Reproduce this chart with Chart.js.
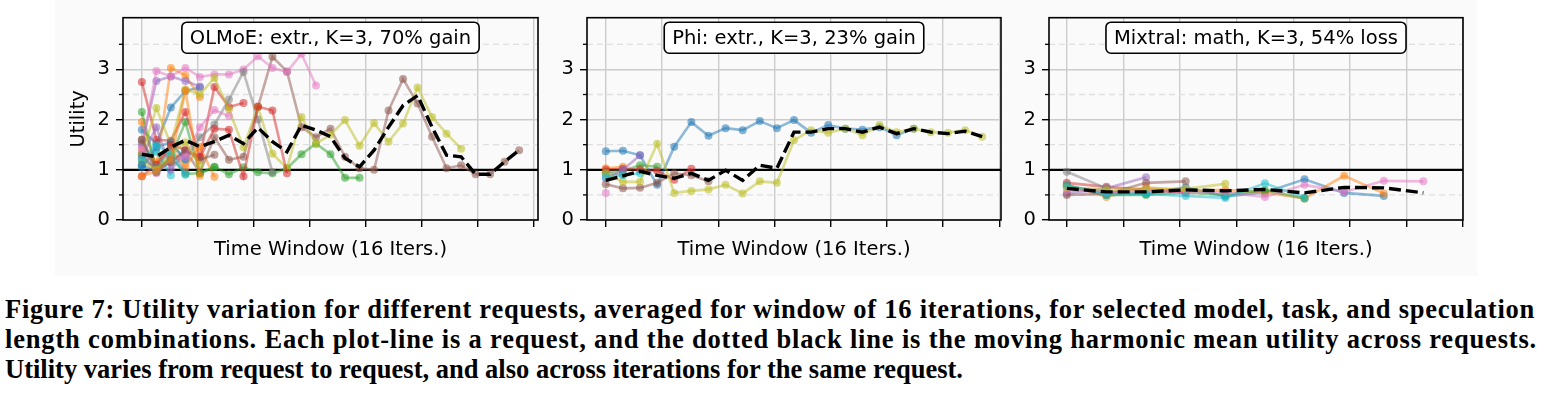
<!DOCTYPE html>
<html>
<head>
<meta charset="utf-8">
<script src="https://cdn.jsdelivr.net/npm/chart.js@4.4.1/dist/chart.umd.min.js"></script>
<style>
  html, body { margin: 0; padding: 0; background: #fff; }
  #page { position: relative; width: 1553px; height: 399px; overflow: hidden; background: #fff; }
  #figbg { position: absolute; left: 55px; top: 0; width: 1422px; height: 276px; background: #fafafa; }
  canvas { position: absolute; top: 0; }
  .cap { position: absolute; left: 5px; font-family: 'Liberation Serif', serif; font-weight: bold;
         font-size: 26.5px; line-height: 30px; white-space: nowrap; color: #000; }
</style>
</head>
<body>
<div id="page">
  <div id="figbg"></div>
  <canvas id="c1"></canvas>
  <canvas id="c2"></canvas>
  <canvas id="c3"></canvas>
</div>
<script>
// tab10, usado com alpha
const tab10 = ['31,119,180', '255,127,14', '44,160,44', '214,39,40', '148,103,189',
               '140,86,75', '227,119,194', '127,127,127', '188,189,34', '23,190,207'];

// utilidade por janela (16 iters), uma lista por request
const olmoeReqs = [
  [1.8, 1.52, 2.24, 2.57, 2.64],
  [1.95, 1.05, 3.03, 2.88, 2.45],
  [2.15, 1.0, 1.26, 1.95, 0.93, 1.06, 0.91, 1.05, 0.95, 0.93, 1.03, 1.31, 1.52, 1.31, 0.84, 0.84],
  [2.75, 1.6, 1.58, 2.15, 1.26, 2.65, 2.25, 2.33],
  [1.5, 2.77, 2.86, 2.77, 2.66],
  [1.6, 0.97, 1.15, 1.38, 0.95, 1.65, 1.2, 1.26, 2.25, 3.25, 2.96, 1.85, 1.65, 1.82, 1.26, 1.03, 1.0, 2.18, 2.81, 2.32, 1.66, 1.03, 1.09, 0.91, 0.91, 1.16, 1.39],
  [1.45, 2.97, 2.86, 3.03, 2.85, 2.9, 2.9, 3.0, 3.26, 3.03, 2.95, 3.31, 2.68],
  [1.55, 1.0, 1.5, 1.2, 1.65, 1.9, 2.4, 2.95, 2.0, 0.95],
  [1.3, 2.23, 1.5, 2.6, 2.5, 2.83, 2.2, 1.45, 2.25, 1.32, 1.03, 2.05, 1.52, 1.7, 1.99, 1.48, 1.93, 1.56, 1.92, 2.64, 2.05, 1.72, 1.42],
  [1.09, 1.36, 0.89],
  [1.05, 1.45, 1.55, 1.2],
  [1.35, 1.15, 1.45, 1.05, 1.46, 0.86],
  [1.3, 0.98, 1.25, 0.92, 0.93, 1.05],
  [0.87, 1.1, 1.5, 1.4, 1.25, 1.82, 1.8, 0.87, 2.26, 2.18, 0.93],
  [1.25, 1.85, 1.0, 1.35],
  [1.6, 1.05, 1.15, 1.38, 1.2, 1.3],
  [1.4, 0.93, 1.2, 1.26, 1.85, 2.19, 2.07],
  [1.2, 1.05, 1.4, 0.95],
  [1.15, 1.0, 1.3, 1.55, 1.1],
  [1.2, 1.5, 1.3, 0.9],
  [1.1, 0.95, 1.2],
  [0.87, 0.97, 1.2, 2.58, 0.88]
];
const olmoeMean = [1.31, 1.26, 1.45, 1.59, 1.46, 1.56, 1.69, 1.52, 1.84, 1.56, 1.36, 1.89, 1.79, 1.66,
                   1.23, 1.06, 1.39, 1.85, 2.28, 2.48, 1.85, 1.29, 1.26, 0.91, 0.91, 1.16, 1.39];

const phiReqs = [
  [1.37, 1.38, 1.29, 0.7, 1.46, 1.95, 1.68, 1.83, 1.79, 1.97, 1.83, 1.99, 1.74, 1.89, 1.82, 1.8, 1.85, 1.69, 1.82],
  [1.03, 1.06],
  [0.95, 0.98, 1.09, 1.06],
  [1.0, 1.02, 1.0, 0.98, 0.8, 1.02],
  [0.83, 1.0, 1.29],
  [0.71, 0.63, 0.64, 0.74, 0.93, 0.89, 0.77],
  [0.54],
  [0.93, 0.9],
  [0.93, 0.76, 0.76, 1.52, 0.54, 0.58, 0.61, 0.7, 0.53, 0.77, 0.74, 1.59, 1.79, 1.74, 1.82, 1.69, 1.89, 1.75, 1.82, 1.75, 1.74, 1.79, 1.66],
  [0.86, 0.89, 0.93]
];
const phiMean = [0.79, 0.88, 0.97, 0.89, 0.83, 0.93, 0.79, 0.99, 0.79, 1.09, 1.03, 1.75, 1.75, 1.82,
                 1.82, 1.75, 1.85, 1.72, 1.82, 1.75, 1.72, 1.77, 1.66];

const mixtralReqs = [
  [0.67, 0.55, 0.52, 0.65, 0.47, 0.55, 0.81, 0.54, 0.48],
  [0.7, 0.46, 0.65, 0.58, 0.6, 0.55, 0.43, 0.88, 0.53],
  [0.68, 0.5, 0.5, 0.55, 0.5, 0.6, 0.43],
  [0.74, 0.66, 0.6, 0.55],
  [0.53, 0.63, 0.85],
  [0.5, 0.52, 0.74, 0.77],
  [0.6, 0.55, 0.6, 0.55, 0.55, 0.46, 0.7, 0.56, 0.78, 0.77],
  [0.96, 0.63],
  [0.65, 0.6, 0.62, 0.62, 0.72],
  [0.7, 0.5, 0.52, 0.48, 0.44, 0.73, 0.45]
];
const mixtralMean = [0.63, 0.56, 0.56, 0.6, 0.58, 0.61, 0.54, 0.65, 0.64, 0.54];

const panelTitles = ['OLMoE: extr., K=3, 70% gain', 'Phi: extr., K=3, 23% gain', 'Mixtral: math, K=3, 54% loss'];
const yTicks = [0, 1, 2, 3];
const yMinor = [0.5, 1.5, 2.5, 3.5];
const xTitle = 'Time Window (16 Iters.)';
const yTitle = 'Utility';

const captionLines = [
  'Figure 7: Utility variation for different requests, averaged for window of 16 iterations, for selected model, task, and speculation',
  'length combinations. Each plot-line is a request, and the dotted black line is the moving harmonic mean utility across requests.',
  'Utility varies from request to request, and also across iterations for the same request.'
];

// caixa dos eixos de cada painel (px na pagina)
const boxes = [
  { left: 123, right: 538 },
  { left: 587, right: 1001 },
  { left: 1049, right: 1463 }
];
const AX_TOP = 17, AX_BOTTOM = 220, CANVAS_H = 270, Y_W = 60, PAD_R = 8;
const FONT = { family: 'DejaVu Sans', size: 19.5 };

const decor = {
  id: 'decor',
  beforeDatasetsDraw(chart) {
    const { ctx, chartArea: a, scales: { y } } = chart;
    ctx.save();
    ctx.strokeStyle = '#e0e0e0';
    ctx.lineWidth = 1.3;
    ctx.setLineDash([6, 4]);
    yMinor.forEach(v => {
      const py = y.getPixelForValue(v);
      ctx.beginPath(); ctx.moveTo(a.left, py); ctx.lineTo(a.right, py); ctx.stroke();
    });
    ctx.setLineDash([]);
    ctx.strokeStyle = '#000';
    ctx.lineWidth = 2.2;
    const p1 = y.getPixelForValue(1);
    ctx.beginPath(); ctx.moveTo(a.left, p1); ctx.lineTo(a.right, p1); ctx.stroke();
    ctx.restore();
  },
  afterDraw(chart, args, opts) {
    const { ctx, chartArea: a, scales: { y } } = chart;
    ctx.save();
    // spines
    ctx.strokeStyle = '#000';
    ctx.lineWidth = 1.6;
    ctx.strokeRect(a.left, a.top, a.right - a.left, a.bottom - a.top);
    // minor ticks
    ctx.lineWidth = 1.3;
    yMinor.forEach(v => {
      const py = y.getPixelForValue(v);
      ctx.beginPath(); ctx.moveTo(a.left - 4, py); ctx.lineTo(a.left, py); ctx.stroke();
    });
    // caixa do titulo
    ctx.font = FONT.size + 'px ' + FONT.family;
    const w = ctx.measureText(opts.title).width;
    const bw = w + 16, bh = 31;
    const cx = (a.left + a.right) / 2;
    const bx = cx - bw / 2, by = a.top + 4.5;
    ctx.beginPath();
    ctx.roundRect(bx, by, bw, bh, 5);
    ctx.fillStyle = '#fff';
    ctx.fill();
    ctx.lineWidth = 1.6;
    ctx.stroke();
    ctx.fillStyle = '#000';
    ctx.textAlign = 'center';
    ctx.textBaseline = 'middle';
    ctx.fillText(opts.title, cx, by + bh / 2 + 1);
    ctx.restore();
  }
};

function montarPainel(id, reqs, mean, title, box, showYTitle) {
  const canvas = document.getElementById(id);
  const W = box.right - box.left + Y_W + PAD_R;
  canvas.width = W;
  canvas.height = CANVAS_H;
  canvas.style.left = (box.left - Y_W) + 'px';
  canvas.style.width = W + 'px';
  canvas.style.height = CANVAS_H + 'px';

  const n = mean.length;
  const xTicks = [];
  for (let k = 0; k <= 7; k++) xTicks.push(k * n / 7);
  const xmin = -0.05 * (n - 1);
  const xmax = Math.max((n - 1) * 1.05, n);

  const datasets = reqs.map((r, k) => ({
    data: r.map((v, i) => ({ x: i, y: v })),
    borderColor: `rgba(${tab10[k % 10]},0.5)`,
    backgroundColor: `rgba(${tab10[k % 10]},0.5)`,
    pointBackgroundColor: `rgba(${tab10[k % 10]},0.55)`,
    pointBorderWidth: 0,
    pointRadius: 4,
    borderWidth: 2.6,
    order: reqs.length - k + 1
  }));
  datasets.push({
    data: mean.map((v, i) => ({ x: i, y: v })),
    borderColor: '#000',
    borderWidth: 3.4,
    borderDash: [12, 5],
    pointRadius: 0,
    order: 0
  });

  new Chart(canvas, {
    type: 'line',
    data: { datasets },
    options: {
      responsive: false,
      animation: false,
      devicePixelRatio: 1,
      layout: { padding: { top: AX_TOP, right: PAD_R, left: 0, bottom: 0 } },
      plugins: { legend: { display: false }, tooltip: { enabled: false }, decor: { title } },
      scales: {
        x: {
          type: 'linear', min: xmin, max: xmax,
          afterBuildTicks: s => { s.ticks = xTicks.map(v => ({ value: v })); },
          afterFit: s => { s.height = CANVAS_H - AX_BOTTOM; },
          ticks: { display: false },
          grid: { color: '#cccccc', lineWidth: 1.4, tickLength: 7, tickColor: '#000', tickWidth: 1.4 },
          border: { display: false },
          title: { display: true, text: xTitle, color: '#000', font: FONT, padding: { top: 0, bottom: 8.3 } }
        },
        y: {
          min: 0, max: 4.03,
          afterBuildTicks: s => { s.ticks = yTicks.map(v => ({ value: v })); },
          afterFit: s => { s.width = Y_W; },
          ticks: { color: '#000', font: FONT, padding: 6 },
          grid: { color: '#cccccc', lineWidth: 1.4, tickLength: 7, tickColor: '#000', tickWidth: 1.4 },
          border: { display: false },
          title: { display: showYTitle, text: yTitle, color: '#000', font: FONT, padding: { top: 4.5, bottom: 0 } }
        }
      }
    },
    plugins: [decor]
  });
}

montarPainel('c1', olmoeReqs, olmoeMean, panelTitles[0], boxes[0], true);
montarPainel('c2', phiReqs, phiMean, panelTitles[1], boxes[1], false);
montarPainel('c3', mixtralReqs, mixtralMean, panelTitles[2], boxes[2], false);

// legenda da figura: cada linha ajustada a sua largura no original
const page = document.getElementById('page');
const larguras = [1530, 1532, 958];
captionLines.forEach((t, i) => {
  const d = document.createElement('div');
  d.className = 'cap';
  d.textContent = t;
  d.style.top = (293.8 + 30 * i) + 'px';
  page.appendChild(d);
  const w = d.getBoundingClientRect().width;
  d.style.letterSpacing = ((larguras[i] - w) / t.length) + 'px';
});
</script>
</body>
</html>
